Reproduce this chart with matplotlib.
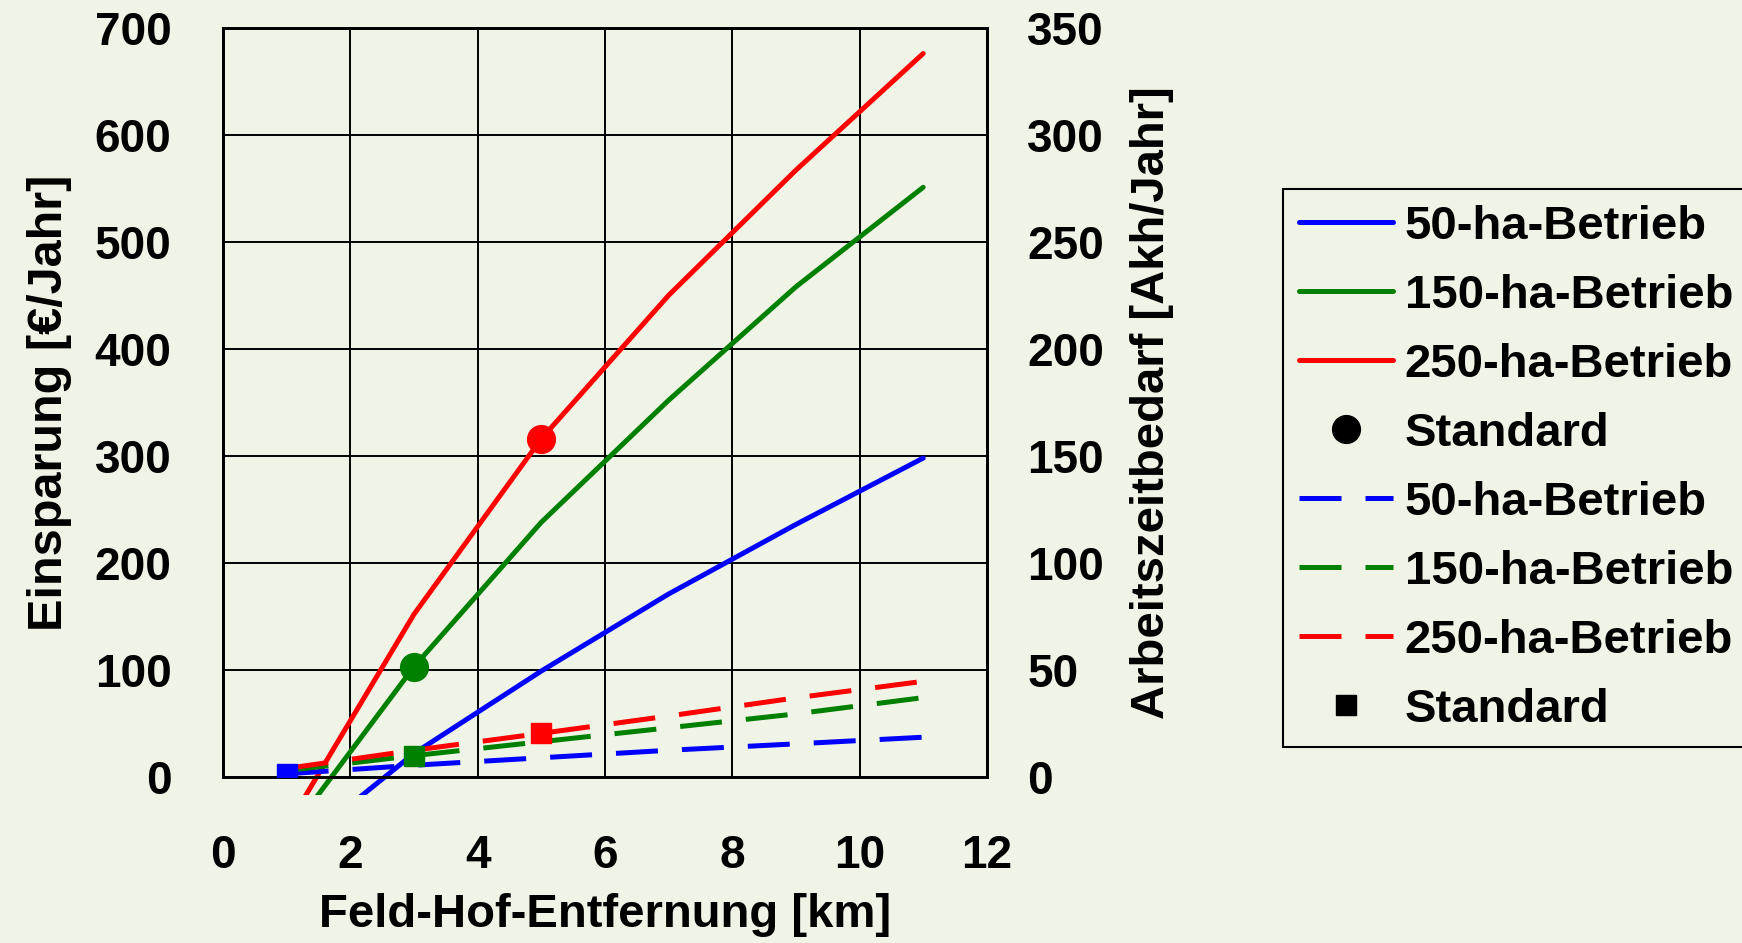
import matplotlib
matplotlib.use('Agg')
import matplotlib.pyplot as plt
from matplotlib.lines import Line2D
from matplotlib.patches import Rectangle

plt.rcParams['font.family'] = ['Liberation Sans', 'DejaVu Sans']
plt.rcParams['font.weight'] = 'bold'

# Feld-Hof-Entfernung [km]
km = [1, 3, 5, 7, 9, 11]

# Einsparung [EUR/Jahr] (left axis, solid)
spar_50 = [-74, 22, 99, 171, 236, 298]
spar_150 = [-56, 103, 238, 352, 458, 551]
spar_250 = [-47, 152, 316, 450, 567, 676]

# Arbeitszeitbedarf [Akh/Jahr] (right axis, dashed)
akh_50 = [1.5, 5.5, 9, 12.5, 15.5, 18.6]
akh_150 = [3, 10, 16.5, 23, 29.5, 37.1]
akh_250 = [4, 12.5, 20.4, 28.5, 37, 44.7]

# standard distance per farm size
std_km = [1, 3, 5]
labels = ['50-ha-Betrieb', '150-ha-Betrieb', '250-ha-Betrieb']
colors = ['#0000FF', '#008000', '#FF0000']

bg = '#F0F4E6'
fig = plt.figure(figsize=(17.42, 9.43), dpi=100, facecolor=bg)
ax = fig.add_axes([0.128, 0.176, 0.4385, 0.7945])
ax.set_facecolor(bg)
ax2 = ax.twinx()

ax.set_xlim(0, 12)
ax.set_ylim(0, 700)
ax2.set_ylim(0, 350)
ax.set_xticks(range(0, 13, 2))
ax.set_yticks(range(0, 701, 100))
ax2.set_yticks(range(0, 351, 50))
ax.grid(True, color='black', linewidth=1.4)
ax.set_axisbelow(True)

for a in (ax, ax2):
    for s in a.spines.values():
        s.set_linewidth(2)
        s.set_color('black')
ax.tick_params(axis='y', length=0, pad=37, labelsize=33)
ax.tick_params(axis='x', length=0, pad=41, labelsize=33)
ax2.tick_params(axis='y', length=0, pad=29, labelsize=33)

# solid lines may run a little below the frame like in the original
clip = Rectangle((0, -0.024), 1, 1.024, transform=ax.transAxes,
                 facecolor='none', edgecolor='none')
ax.add_patch(clip)

solid = [spar_50, spar_150, spar_250]
dashed = [akh_50, akh_150, akh_250]
handles_s, handles_d = [], []
for i in range(3):
    ln, = ax.plot(km, solid[i], color=colors[i], linewidth=3.6,
                  solid_capstyle='round', label=labels[i])
    ln.set_clip_path(clip)
    handles_s.append(ln)
    dl, = ax2.plot(km, dashed[i], color=colors[i], linewidth=3.6,
                   dashes=(8.4, 4.8), dash_capstyle='butt', label=labels[i])
    handles_d.append(dl)
    # standard point markers
    k = km.index(std_km[i])
    if solid[i][k] >= 0:
        ax.plot(std_km[i], solid[i][k], 'o', color=colors[i], markersize=20, zorder=5)
    ax2.plot(std_km[i], dashed[i][k], 's', color=colors[i], markersize=14.5, zorder=5)

ax.set_xlabel('Feld-Hof-Entfernung [km]', fontsize=34, fontweight='bold', labelpad=11)
ax.set_ylabel('Einsparung [€/Jahr]', fontsize=35, fontweight='bold', labelpad=16)
ax2.set_ylabel('Arbeitszeitbedarf [Akh/Jahr]', fontsize=34, fontweight='bold', labelpad=19)

circ = Line2D([], [], linestyle='none', marker='o', color='black', markersize=20)
sq = Line2D([], [], linestyle='none', marker='s', color='black', markersize=14.5)
leg = fig.legend(handles_s + [circ] + handles_d + [sq],
                 labels + ['Standard'] + labels + ['Standard'],
                 loc='upper left', bbox_to_anchor=(0.7365, 0.7996),
                 prop={'weight': 'bold', 'size': 34},
                 frameon=True, fancybox=False, edgecolor='black',
                 facecolor=bg, framealpha=1, handlelength=2.0,
                 handletextpad=0.25, labelspacing=0.53, borderpad=0.33,
                 borderaxespad=0)
leg.get_frame().set_linewidth(1.5)

fig.savefig('out.png', dpi=100, facecolor=bg)
